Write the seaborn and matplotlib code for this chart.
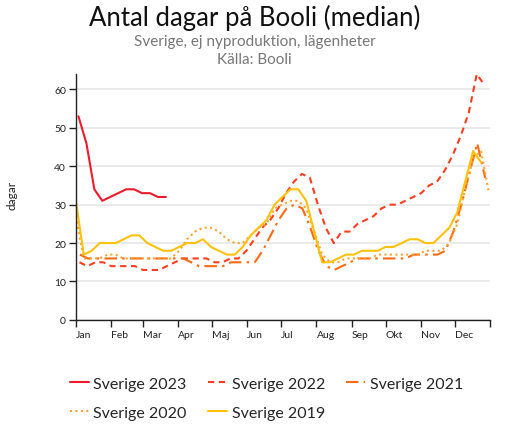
import numpy as np
import pandas as pd
import matplotlib
matplotlib.use("Agg")
import matplotlib.pyplot as plt
import seaborn as sns

# ---- data (weekly medians, days on market) ----
series_names = ["Sverige 2023", "Sverige 2022", "Sverige 2021", "Sverige 2020", "Sverige 2019"]

v2023 = [53, 46, 34, 31, 32, 33, 34, 34, 33, 33, 32, 32]
v2022 = [15, 14, 15, 15, 14, 14, 14, 14, 13, 13, 13, 14, 15, 16, 16, 16, 16, 15, 15, 16,
         16, 18, 21, 24, 26, 29, 33, 36, 38, 37, 30, 24, 20, 23, 23, 25, 26, 27, 29, 30,
         30, 31, 32, 33, 35, 36, 39, 43, 48, 54, 64, 61]
v2021 = [17, 16, 16, 16, 16, 16, 16, 16, 16, 16, 16, 16, 16, 16, 15, 14, 14, 14, 14, 15,
         15, 15, 15, 18, 22, 26, 29, 30, 29, 24, 18, 14, 13, 14, 15, 16, 16, 16, 16, 16,
         16, 16, 17, 17, 17, 17, 18, 23, 30, 38, 46, 37]
v2020 = [27, 16, 16, 16, 17, 17, 16, 16, 16, 16, 16, 16, 16, 18, 21, 23, 24, 24, 23, 21,
         20, 20, 22, 24, 25, 29, 30, 31, 31, 29, 23, 17, 15, 15, 16, 16, 16, 16, 17, 17,
         17, 17, 17, 17, 18, 18, 18, 20, 25, 34, 42, 44, 33]
v2019 = [31, 17, 18, 20, 20, 20, 21, 22, 22, 20, 19, 18, 18, 19, 20, 20, 21, 19, 18, 17,
         17, 19, 22, 24, 26, 30, 32, 34, 34, 31, 23, 15, 15, 16, 17, 17, 18, 18, 18, 19,
         19, 20, 21, 21, 20, 20, 22, 24, 28, 36, 44, 41]

# day of year of each series' first weekly observation
first_day = [2.3, 3.2, 3.6, 0.0, 0.0]

month_labels = ["Jan", "Feb", "Mar", "Apr", "Maj", "Jun", "Jul", "Aug", "Sep", "Okt", "Nov", "Dec"]
month_start = [0, 31, 59, 90, 120, 151, 181, 212, 243, 273, 304, 334]
yticks = [0, 10, 20, 30, 40, 50, 60]

values = [v2023, v2022, v2021, v2020, v2019]
rows = []
for name, vals, d0 in zip(series_names, values, first_day):
    for i, v in enumerate(vals):
        rows.append({"day": d0 + 7 * i, "dagar": v, "serie": name})
df = pd.DataFrame(rows)

# ---- style ----
sns.set_theme(style="white")
plt.rcParams["font.family"] = ["Lato", "DejaVu Sans"]

palette = {
    "Sverige 2023": "#ee1b2c",
    "Sverige 2022": "#ff3d1f",
    "Sverige 2021": "#ff6a12",
    "Sverige 2020": "#ffa232",
    "Sverige 2019": "#ffc10a",
}
dashes = {
    "Sverige 2023": "",
    "Sverige 2022": (3, 2.2),
    "Sverige 2021": (6, 2.5, 1.2, 2.5),
    "Sverige 2020": (1, 1.6),
    "Sverige 2019": "",
}

fig = plt.figure(figsize=(5.09, 4.39), dpi=100)
ax = fig.add_axes([0.149, 0.269, 0.814, 0.560])

sns.lineplot(data=df, x="day", y="dagar", hue="serie", style="serie",
             hue_order=series_names, style_order=series_names,
             palette=palette, dashes=dashes, linewidth=1.5,
             estimator=None, ax=ax)

ax.set_xlim(0, 365)
ax.set_ylim(0, 64)
ax.set_yticks(yticks)
ax.set_yticklabels([str(t) for t in yticks])
ax.set_xticks(month_start + [365])
ax.set_xticklabels(month_labels + [""], ha="left")
ax.tick_params(axis="both", which="both", length=5, width=1, color="#222222",
               labelsize=7.5, labelcolor="#222222", bottom=True, left=True)
ax.tick_params(axis="y", pad=2)
ax.tick_params(axis="x", pad=2)
ax.grid(axis="y", color="#e6e6e6", linewidth=1.2)
ax.set_axisbelow(True)
for s in ["top", "right"]:
    ax.spines[s].set_visible(False)
for s in ["left", "bottom"]:
    ax.spines[s].set_color("#222222")
    ax.spines[s].set_linewidth(1)
ax.set_xlabel("")
ax.set_ylabel("")

fig.text(0.024, 0.555, "dagar", rotation=90, ha="center", va="center",
         fontsize=8.5, color="#222222")

fig.text(0.50, 0.958, "Antal dagar på Booli (median)", ha="center", va="center",
         fontsize=18.5, color="#111111")
fig.text(0.50, 0.905, "Sverige, ej nyproduktion, lägenheter", ha="center", va="center",
         fontsize=11, color="#777777")
fig.text(0.50, 0.863, "Källa: Booli", ha="center", va="center",
         fontsize=11, color="#777777")

handles, labels = ax.get_legend_handles_labels()
ax.get_legend().remove()
hmap = dict(zip(labels, handles))
# legend fills column-wise; this order gives rows 2023/2022/2021 and 2020/2019
leg_order = ["Sverige 2023", "Sverige 2020", "Sverige 2022", "Sverige 2019", "Sverige 2021"]
fig.legend([hmap[l] for l in leg_order], leg_order, loc="upper left",
           bbox_to_anchor=(0.124, 0.155),
           ncol=3, frameon=False, fontsize=11.5, handlelength=1.2, handletextpad=0.3,
           columnspacing=1.3, labelspacing=0.95, borderaxespad=0)

fig.savefig("out.png", dpi=100)
